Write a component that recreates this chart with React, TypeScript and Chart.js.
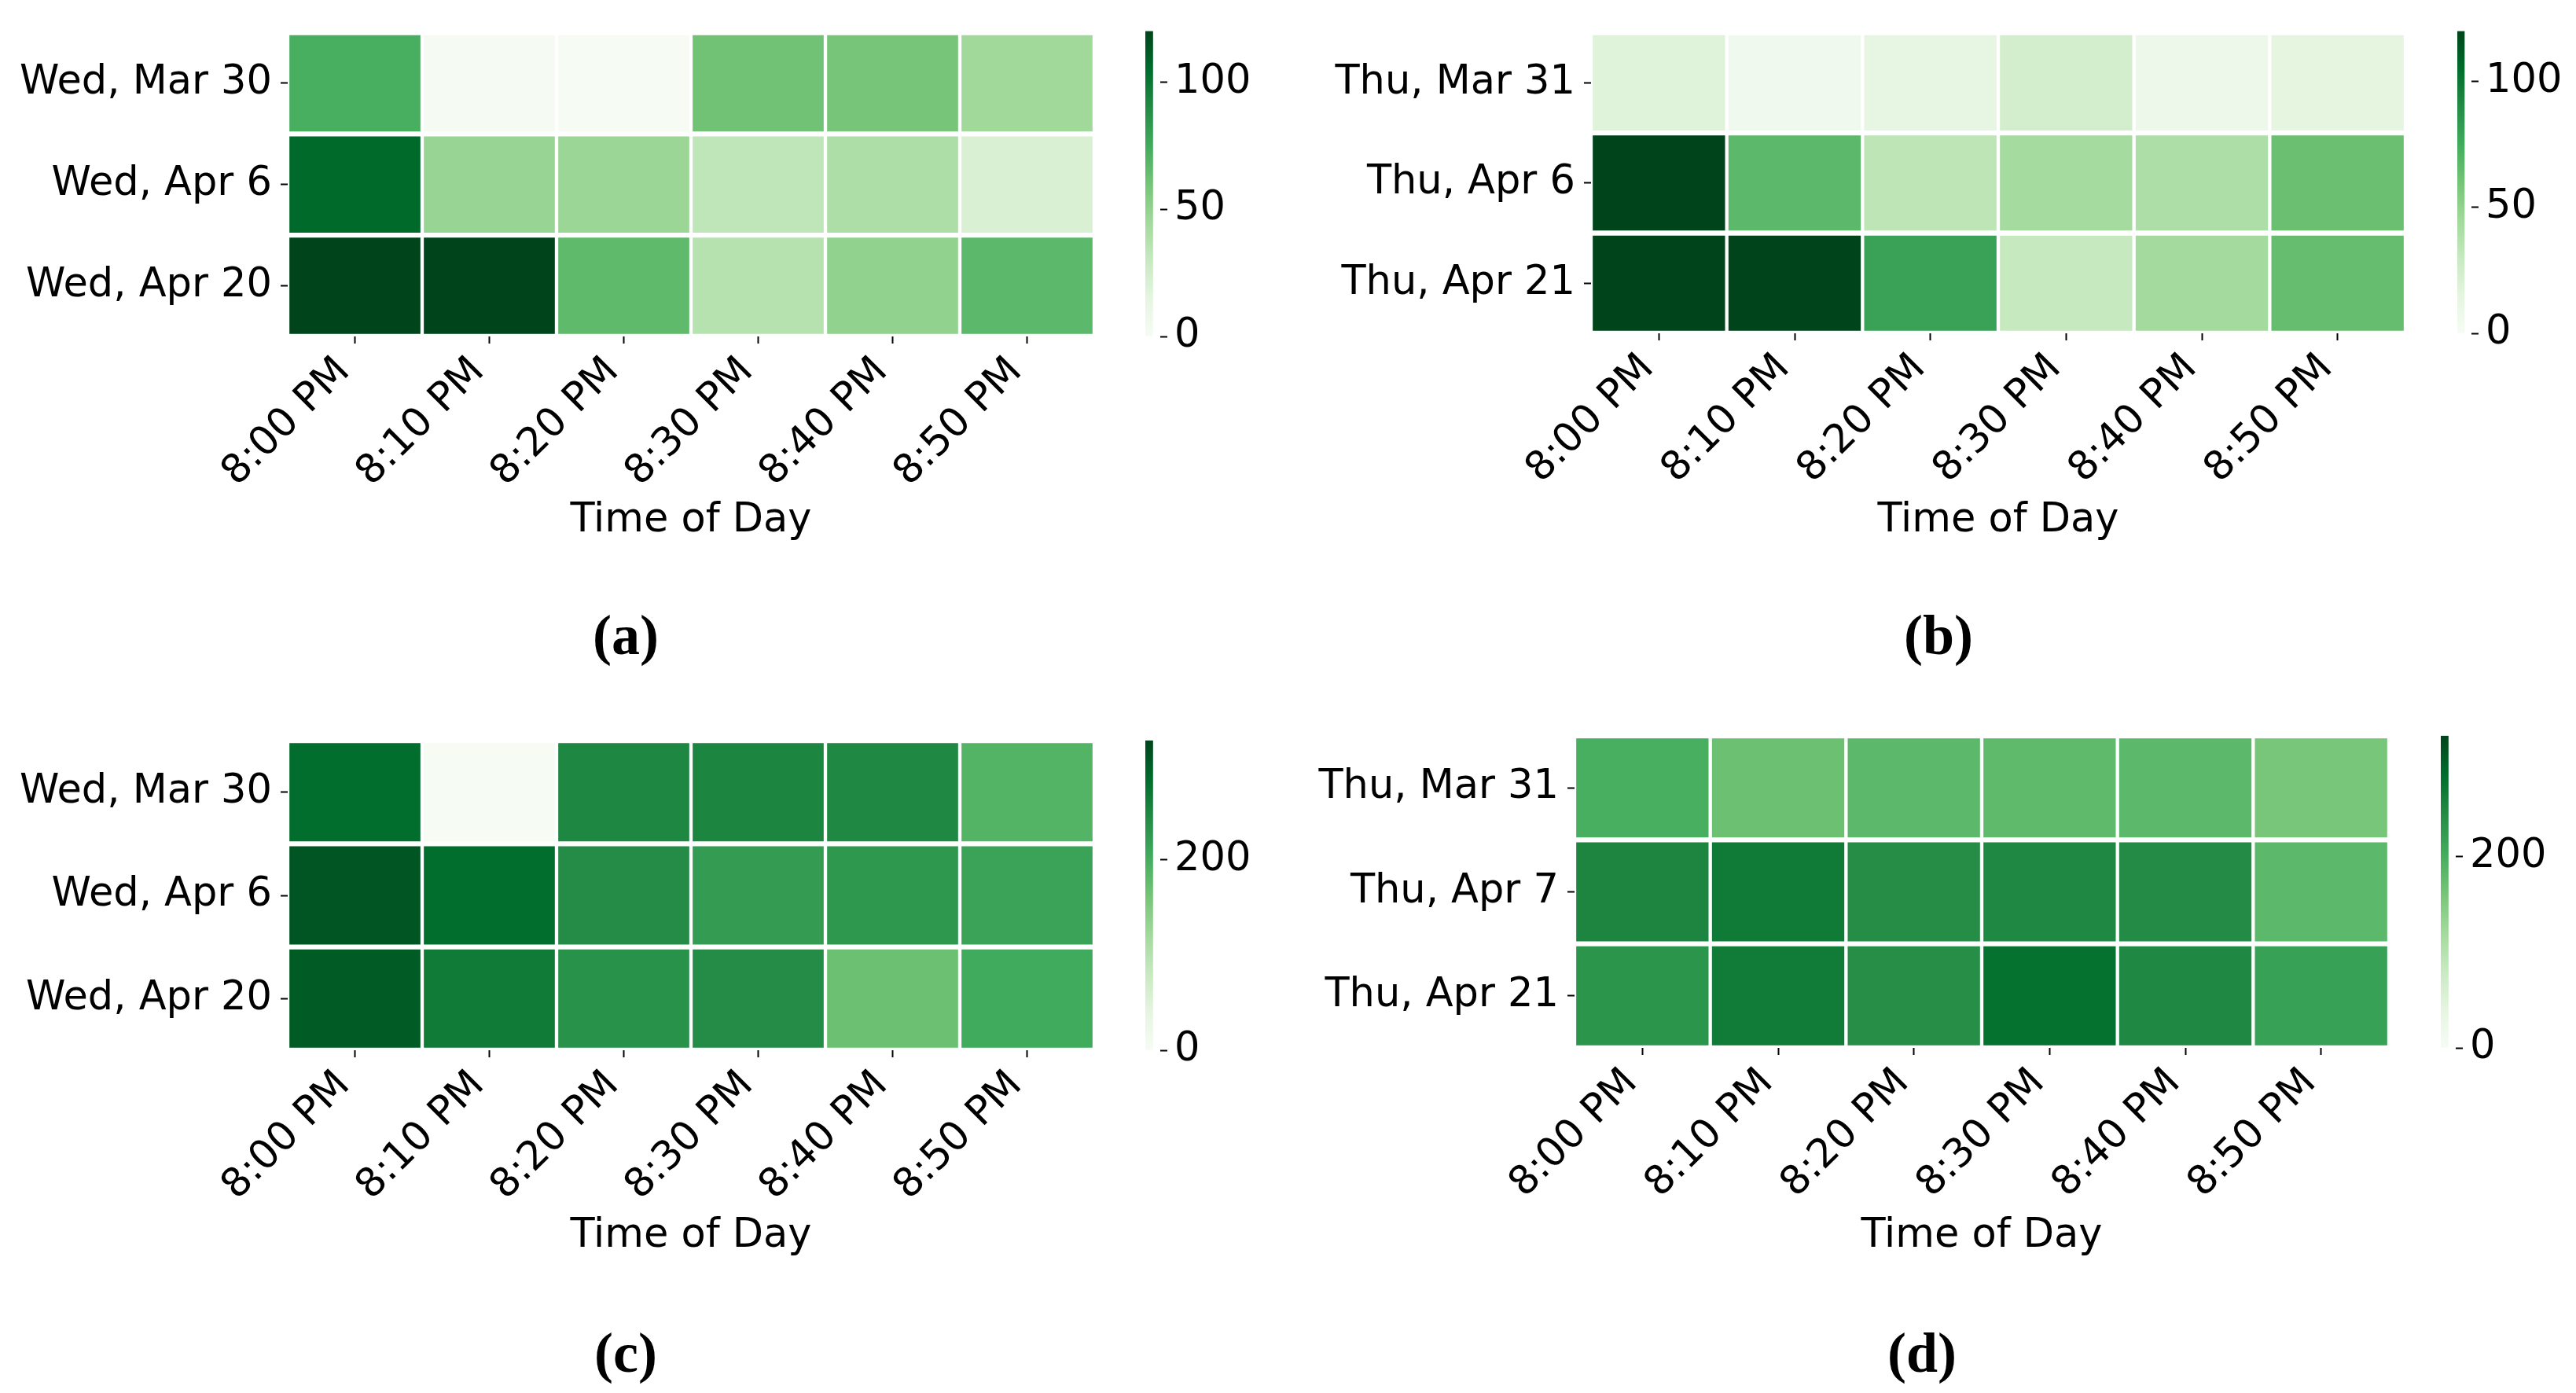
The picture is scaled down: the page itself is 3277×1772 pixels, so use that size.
import React, { useEffect, useRef } from 'react';
import { Chart, registerables } from 'chart.js';

Chart.register(...registerables);

// ---------------- data ----------------
const timeLabels = ['8:00 PM', '8:10 PM', '8:20 PM', '8:30 PM', '8:40 PM', '8:50 PM'];

const rowsA = ['Wed, Mar 30', 'Wed, Apr 6', 'Wed, Apr 20'];
const rowsB = ['Thu, Mar 31', 'Thu, Apr 6', 'Thu, Apr 21'];
const rowsC = ['Wed, Mar 30', 'Wed, Apr 6', 'Wed, Apr 20'];
const rowsD = ['Thu, Mar 31', 'Thu, Apr 7', 'Thu, Apr 21'];

const a_mar30 = [73, 2, 1, 61, 59, 45];
const a_apr6 = [106, 48, 47, 33, 40, 21];
const a_apr20 = [120, 120, 66, 37, 50, 67];

const b_mar31 = [18, 6, 13, 24, 8, 15];
const b_apr6 = [120, 67, 34, 43, 40, 63];
const b_apr21 = [120, 120, 79, 30, 44, 64];

const c_mar30 = [283, 3, 249, 252, 248, 189];
const c_apr6 = [308, 283, 242, 222, 227, 213];
const c_apr20 = [302, 266, 235, 242, 169, 203];

const d_mar31 = [198, 169, 182, 179, 182, 159];
const d_apr7 = [252, 267, 242, 249, 244, 182];
const d_apr21 = [232, 266, 241, 278, 249, 217];

const vmaxA = 120;
const vmaxB = 120;
const vmaxC = 325;
const vmaxD = 326;

const cbarTicksA = [0, 50, 100];
const cbarTicksB = [0, 50, 100];
const cbarTicksC = [0, 200];
const cbarTicksD = [0, 200];

const captions = ['(a)', '(b)', '(c)', '(d)'];

// ---------------- colormap ----------------
const GREENS = ['#f7fcf5', '#e5f5e0', '#c7e9c0', '#a1d99b', '#74c476', '#41ab5d', '#238b45', '#006d2c', '#00441b'];
const GREENS_RGB = GREENS.map((h) => [
  parseInt(h.slice(1, 3), 16),
  parseInt(h.slice(3, 5), 16),
  parseInt(h.slice(5, 7), 16),
]);

function greens(t: number): string {
  const x = Math.max(0, Math.min(1, t)) * (GREENS_RGB.length - 1);
  const i = Math.min(GREENS_RGB.length - 2, Math.floor(x));
  const f = x - i;
  const c0 = GREENS_RGB[i];
  const c1 = GREENS_RGB[i + 1];
  const c = c0.map((v, k) => Math.round(v + (c1[k] - v) * f));
  return `rgb(${c[0]},${c[1]},${c[2]})`;
}

const FONT = "'DejaVu Sans', sans-serif";
const FS = 51;

type Rect = { l: number; t: number; r: number; b: number };

type PanelCfg = {
  rows: string[];
  values: number[][];
  vmax: number;
  cticks: number[];
  origin: { x: number; y: number };
  heat: Rect;
  titleY: number;
  cbar: { l: number; r: number };
  caption: string;
  capX: number;
  capY: number;
};

const panels: PanelCfg[] = [
  {
    rows: rowsA, values: [a_mar30, a_apr6, a_apr20], vmax: vmaxA, cticks: cbarTicksA,
    origin: { x: 0, y: 0 }, heat: { l: 366, t: 33, r: 1392, b: 428 }, titleY: 662,
    cbar: { l: 1457, r: 1476 }, caption: captions[0], capX: 796, capY: 808,
  },
  {
    rows: rowsB, values: [b_mar31, b_apr6, b_apr21], vmax: vmaxB, cticks: cbarTicksB,
    origin: { x: 1640, y: 0 }, heat: { l: 2024, t: 27, r: 3060, b: 424 }, titleY: 662,
    cbar: { l: 3126, r: 3144 }, caption: captions[1], capX: 2466, capY: 808,
  },
  {
    rows: rowsC, values: [c_mar30, c_apr6, c_apr20], vmax: vmaxC, cticks: cbarTicksC,
    origin: { x: 0, y: 880 }, heat: { l: 366, t: 942, r: 1392, b: 1336 }, titleY: 1572,
    cbar: { l: 1457, r: 1476 }, caption: captions[2], capX: 796, capY: 1721,
  },
  {
    rows: rowsD, values: [d_mar31, d_apr7, d_apr21], vmax: vmaxD, cticks: cbarTicksD,
    origin: { x: 1640, y: 880 }, heat: { l: 2003, t: 936, r: 3039, b: 1333 }, titleY: 1572,
    cbar: { l: 3105, r: 3124 }, caption: captions[3], capX: 2445, capY: 1721,
  },
];

function Heatmap({ cfg }: { cfg: PanelCfg }) {
  const ref = useRef<HTMLCanvasElement>(null);
  const { origin, heat, titleY } = cfg;
  const rightPad = 40;
  const width = heat.r - origin.x + rightPad;
  const bottom = titleY + 31;
  const height = bottom - origin.y;

  useEffect(() => {
    if (!ref.current) return;
    const chart = new Chart(ref.current, {
      type: 'bar',
      data: {
        labels: timeLabels,
        datasets: cfg.rows.map((name, r) => ({
          label: name,
          data: cfg.values[r].map(() => [r, r + 1]) as any,
          backgroundColor: cfg.values[r].map((v) => greens(v / cfg.vmax)),
          borderColor: '#ffffff',
          borderWidth: { left: 2.5, right: 2.5, top: 3.5, bottom: 3.5 } as any,
          borderSkipped: false,
          grouped: false,
          barPercentage: 1,
          categoryPercentage: 1,
        })),
      },
      options: {
        animation: false,
        responsive: false,
        devicePixelRatio: 1,
        layout: { padding: { left: 0, top: heat.t - origin.y, right: rightPad, bottom: 0 } },
        plugins: { legend: { display: false }, tooltip: { enabled: false } },
        scales: {
          x: {
            type: 'category',
            offset: true,
            border: { display: false },
            grid: { display: true, drawOnChartArea: false, drawTicks: true, tickLength: 9, tickWidth: 2, color: '#000', offset: false },
            ticks: { maxRotation: 45, minRotation: 45, autoSkip: false, color: '#000', font: { family: FONT, size: FS }, padding: 6, labelOffset: -14 },
            title: { display: true, text: 'Time of Day', color: '#000', font: { family: FONT, size: FS }, padding: 0 },
            afterFit: (s: any) => { s.height = bottom - heat.b; },
          },
          y: {
            type: 'linear',
            min: 0,
            max: 3,
            reverse: true,
            border: { display: false },
            grid: { display: true, drawOnChartArea: false, drawTicks: true, tickLength: 9, tickWidth: 2, color: '#000' },
            afterBuildTicks: (axis: any) => { axis.ticks = [0.5, 1.5, 2.5].map((v) => ({ value: v })); },
            ticks: {
              color: '#000', font: { family: FONT, size: FS }, padding: 11,
              callback: (v: any) => cfg.rows[Math.floor(Number(v))] ?? '',
            },
            afterFit: (s: any) => { s.width = heat.l - origin.x; },
          },
        },
      },
    });
    return () => chart.destroy();
  }, []);

  return (
    <canvas
      ref={ref}
      width={width}
      height={height}
      style={{ position: 'absolute', left: origin.x, top: origin.y, width, height }}
    />
  );
}

function ColorBar({ cfg }: { cfg: PanelCfg }) {
  const ref = useRef<HTMLCanvasElement>(null);
  const { origin, heat, cbar } = cfg;
  const axisW = 200;
  const padB = 40;
  const width = cbar.r - cbar.l + axisW;
  const height = heat.b - origin.y + padB;

  useEffect(() => {
    if (!ref.current) return;
    const chart = new Chart(ref.current, {
      type: 'bar',
      data: {
        labels: [''],
        datasets: [
          {
            data: [[0, cfg.vmax]] as any,
            backgroundColor: (ctx: any) => {
              const area = ctx.chart.chartArea;
              if (!area) return GREENS[4];
              const g = ctx.chart.ctx.createLinearGradient(0, area.bottom, 0, area.top);
              GREENS.forEach((c, i) => g.addColorStop(i / (GREENS.length - 1), c));
              return g;
            },
            borderWidth: 0,
            barPercentage: 1,
            categoryPercentage: 1,
          },
        ],
      },
      options: {
        animation: false,
        responsive: false,
        devicePixelRatio: 1,
        layout: { padding: { left: 0, top: heat.t - origin.y, right: 0, bottom: padB } },
        plugins: { legend: { display: false }, tooltip: { enabled: false } },
        scales: {
          x: { display: false, offset: false },
          y: {
            type: 'linear',
            position: 'right',
            min: 0,
            max: cfg.vmax,
            border: { display: false },
            grid: { display: true, drawOnChartArea: false, drawTicks: true, tickLength: 9, tickWidth: 2, color: '#000' },
            afterBuildTicks: (axis: any) => { axis.ticks = cfg.cticks.map((v) => ({ value: v })); },
            ticks: { color: '#000', font: { family: FONT, size: FS }, padding: 9 },
            afterFit: (s: any) => { s.width = axisW; },
          },
        },
      },
    });
    return () => chart.destroy();
  }, []);

  return (
    <canvas
      ref={ref}
      width={width}
      height={height}
      style={{ position: 'absolute', left: cbar.l, top: origin.y, width, height }}
    />
  );
}

export default function App() {
  return (
    <div style={{ position: 'absolute', left: 0, top: 0, width: 3277, height: 1772, background: '#fff', overflow: 'hidden' }}>
      {panels.map((p, i) => (
        <React.Fragment key={i}>
          <Heatmap cfg={p} />
          <ColorBar cfg={p} />
          <div
            style={{
              position: 'absolute',
              left: p.capX - 100,
              top: p.capY - 45,
              width: 200,
              height: 90,
              lineHeight: '90px',
              textAlign: 'center',
              fontFamily: "'Liberation Serif', 'DejaVu Serif', serif",
              fontWeight: 'bold',
              fontSize: 72,
              color: '#000',
            }}
          >
            {p.caption}
          </div>
        </React.Fragment>
      ))}
    </div>
  );
}
